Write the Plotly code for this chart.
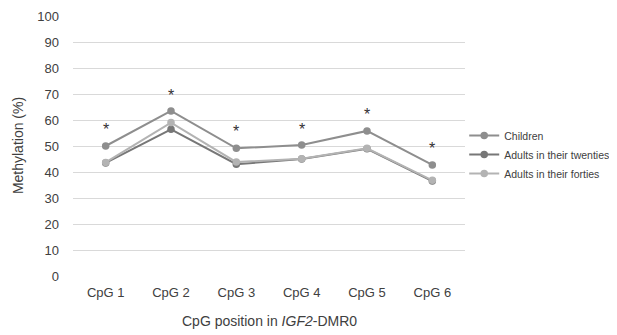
import plotly.graph_objects as go

categories = ["CpG 1", "CpG 2", "CpG 3", "CpG 4", "CpG 5", "CpG 6"]
children = [50.0, 63.5, 49.1, 50.4, 55.8, 42.7]
twenties = [43.5, 56.4, 43.0, 45.0, 48.9, 36.5]
forties = [43.7, 59.0, 43.8, 45.1, 49.1, 36.8]
asterisk_y = [56.2, 69.6, 55.4, 56.5, 62.3, 49.2]
y_ticks = list(range(0, 101, 10))

font_family = "Arial, Liberation Sans, Helvetica, sans-serif"
text_col = "#404040"

fig = go.Figure()
series = [
    ("Children", children, "#8e8e8e"),
    ("Adults in their twenties", twenties, "#777777"),
    ("Adults in their forties", forties, "#b3b3b3"),
]
for name, vals, col in series:
    fig.add_trace(go.Scatter(
        x=categories, y=vals, name=name, mode="lines+markers",
        line=dict(color=col, width=2),
        marker=dict(color=col, size=7.5),
    ))

for c, ay in zip(categories, asterisk_y):
    fig.add_annotation(x=c, y=ay, text="*", showarrow=False,
                       font=dict(size=16, color="#333333", family=font_family),
                       yanchor="middle")

# axis titles
fig.add_annotation(x=0.5, y=-0.173, xref="paper", yref="paper",
                   text="CpG position in <i>IGF2</i>-DMR0", showarrow=False,
                   xanchor="center", yanchor="middle",
                   font=dict(size=14, color=text_col, family=font_family))
fig.add_annotation(x=-0.140, y=0.5, xref="paper", yref="paper",
                   text="Methylation (%)", showarrow=False, textangle=-90,
                   xanchor="center", yanchor="middle",
                   font=dict(size=14, color=text_col, family=font_family))

# page body has an 8px default margin, so the figure is 8px smaller
fig.update_layout(
    width=609, height=327,
    margin=dict(l=65, r=152, t=8, b=59, autoexpand=False),
    plot_bgcolor="white", paper_bgcolor="white",
    font=dict(family=font_family, size=13, color=text_col),
    legend=dict(x=0.998, y=0.467, xanchor="left", yanchor="middle",
                font=dict(size=10.5, color=text_col),
                bgcolor="rgba(0,0,0,0)",
                tracegroupgap=0, itemwidth=30),
    showlegend=True,
)
fig.update_xaxes(
    type="category", range=[-0.5, 5.5], showgrid=False, zeroline=False,
    showline=False, ticks="", automargin=False,
    tickfont=dict(size=13, color=text_col), ticklabelstandoff=7,
)
fig.update_yaxes(
    range=[0, 100], tickvals=y_ticks, showgrid=True, gridcolor="#d9d9d9",
    gridwidth=1, zeroline=False, showline=False, ticks="", automargin=False,
    tickfont=dict(size=13, color=text_col), ticklabelstandoff=13,
)
fig.write_html("out.html")
